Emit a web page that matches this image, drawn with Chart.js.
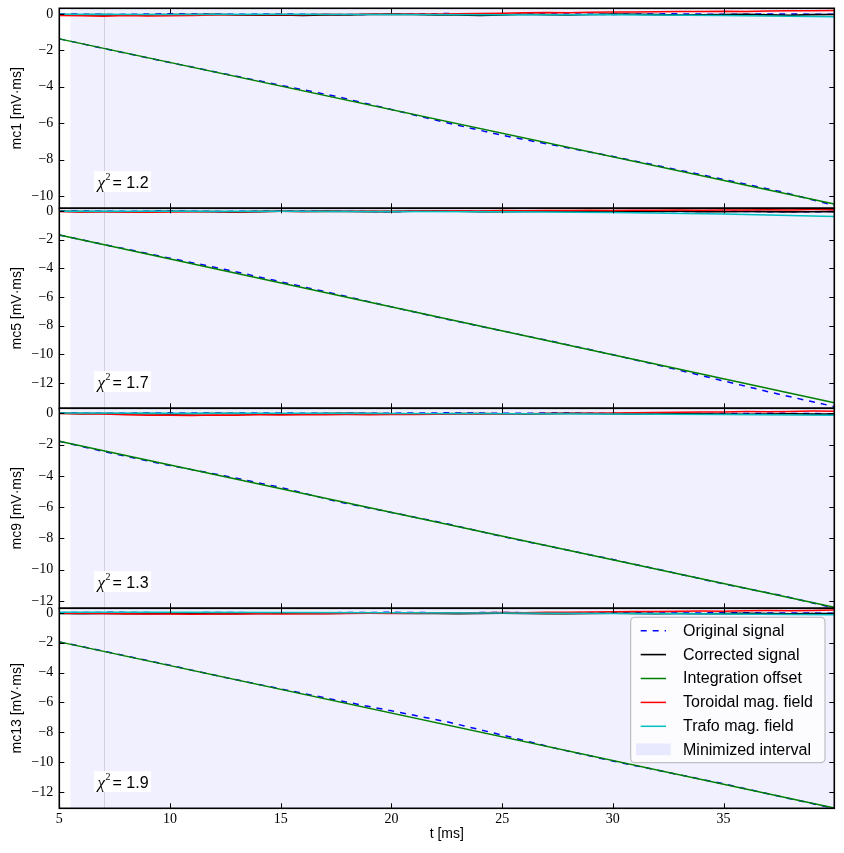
<!DOCTYPE html>
<html><head><meta charset="utf-8">
<script src="https://cdn.jsdelivr.net/npm/chart.js@4/dist/chart.umd.min.js"></script>
<style>
html,body{margin:0;padding:0;background:#fff;}
#wrap{position:relative;width:844px;height:853px;background:#fff;overflow:hidden;}
#wrap canvas{position:absolute;left:0;}
</style></head><body>
<div id="wrap">
<canvas id="c0" width="844" height="216" style="top:0px;width:844px;height:216px"></canvas>
<canvas id="c1" width="844" height="216" style="top:200px;width:844px;height:216px"></canvas>
<canvas id="c2" width="844" height="216" style="top:400px;width:844px;height:216px"></canvas>
<canvas id="c3" width="844" height="253" style="top:600px;width:844px;height:253px"></canvas>
</div>
<script>
// ---------- data ----------
const tFine = [5,6,7,8,9,10,11,12,13,14,15,16,17,18,19,20,21,22,23,24,25,26,27,28,29,30,31,32,33,34,35,36,37,38,39,40];
const tOrig = [5,7.5,10,12.5,15,17.5,20,22.5,25,27.5,30,32.5,35,37.5,40];
const tCoarse = [5,10,15,20,25,30,35,40];
const tOffset = [5,40];

const channels = ['mc1','mc5','mc9','mc13'];
const chiSquared = [1.2,1.7,1.3,1.9];
const xTicks = [5,10,15,20,25,30,35];
const yTicksMc1 = [0,-2,-4,-6,-8,-10];
const yTicksOther = [0,-2,-4,-6,-8,-10,-12];
const yLimMin = [-10.68,-13.77,-12.47,-13.09];
const yLimMax = [0.31,0.19,0.32,0.31];
const xLimMin = 5, xLimMax = 40;
const intervalStart = 5.5, intervalEnd = 40, intervalMarker = 7;
const intervalLabel = 'Minimized interval';

// Original signal (blue dashed)
const origMc1  = [-1.37,-2.02,-2.67,-3.30,-3.92,-4.53,-5.25,-5.98,-6.67,-7.25,-7.83,-8.46,-9.09,-9.74,-10.52];
const origMc5  = [-1.67,-2.49,-3.29,-4.08,-4.94,-5.80,-6.69,-7.55,-8.36,-9.18,-10.03,-10.92,-11.86,-12.79,-13.65];
const origMc9  = [-1.79,-2.60,-3.34,-4.01,-4.74,-5.63,-6.34,-7.06,-7.88,-8.61,-9.35,-10.12,-10.91,-11.62,-12.45];
const origMc13 = [-1.94,-2.72,-3.51,-4.33,-5.09,-5.84,-6.56,-7.29,-8.18,-9.10,-9.92,-10.69,-11.45,-12.28,-13.10];
// Original signal, offset-free part near zero
const zeroMc1  = [0.00,-0.03,0.01,-0.02,0.00,-0.04,-0.01,0.02,-0.02,0.00,-0.03,0.01,-0.02,0.00,-0.02];
const zeroMc5  = [0.01,-0.02,0.00,-0.03,0.01,-0.01,-0.03,0.00,-0.02,0.01,-0.02,-0.04,-0.02,-0.05,-0.04];
const zeroMc9  = [0.02,0.00,0.03,0.01,0.02,-0.01,0.01,0.03,0.00,0.02,-0.01,0.01,-0.02,0.00,-0.03];
const zeroMc13 = [0.02,0.04,0.01,0.03,0.00,0.02,0.04,0.01,0.03,0.00,0.02,-0.01,0.01,0.00,-0.02];
// Integration offset (green)
const offsetMc1  = [-1.37,-10.44];
const offsetMc5  = [-1.67,-13.38];
const offsetMc9  = [-1.79,-12.40];
const offsetMc13 = [-1.94,-13.07];
// Corrected signal (black)
const corrMc1  = [-0.03,-0.05,-0.04,-0.06,-0.05,-0.03,-0.04,-0.02,-0.05,-0.07,-0.06,-0.08,-0.05,-0.06,-0.03,-0.01,-0.03,-0.05,-0.06,-0.08,-0.05,-0.02,-0.04,-0.05,-0.03,-0.01,-0.02,-0.04,-0.06,-0.05,-0.03,-0.02,-0.05,-0.07,-0.04,-0.03];
const corrMc5  = [-0.02,-0.04,-0.03,-0.05,-0.04,-0.02,-0.03,-0.05,-0.06,-0.04,-0.02,-0.03,-0.01,-0.03,-0.05,-0.04,-0.02,0.00,-0.02,-0.04,-0.05,-0.03,-0.01,-0.02,-0.04,-0.06,-0.05,-0.03,-0.02,-0.04,-0.05,-0.03,-0.04,-0.06,-0.05,-0.04];
const corrMc9  = [0.00,-0.02,-0.01,-0.03,-0.02,-0.04,-0.03,-0.01,-0.02,-0.04,-0.05,-0.03,-0.02,0.00,-0.02,-0.03,-0.05,-0.04,-0.02,-0.01,-0.03,-0.04,-0.02,0.00,-0.01,-0.03,-0.05,-0.04,-0.02,-0.03,-0.05,-0.06,-0.04,-0.03,-0.05,-0.04];
const corrMc13 = [-0.03,-0.05,-0.04,-0.06,-0.05,-0.03,-0.04,-0.06,-0.05,-0.03,-0.02,-0.04,-0.03,-0.01,0.01,-0.02,-0.04,-0.03,-0.05,-0.04,-0.02,-0.03,-0.05,-0.06,-0.04,-0.02,-0.03,-0.05,-0.04,-0.06,-0.05,-0.03,-0.04,-0.06,-0.05,-0.04];
// Toroidal mag. field (red)
const torMc1  = [-0.08,-0.10,-0.12,-0.09,-0.11,-0.10,-0.08,-0.06,-0.04,-0.05,-0.03,-0.04,-0.02,-0.03,-0.01,-0.02,0.00,-0.01,0.01,0.02,0.04,0.06,0.08,0.07,0.09,0.11,0.10,0.12,0.14,0.13,0.15,0.14,0.16,0.18,0.17,0.19];
const torMc5  = [-0.04,-0.06,-0.05,-0.07,-0.08,-0.06,-0.05,-0.04,-0.05,-0.03,-0.02,-0.03,-0.01,-0.02,0.00,-0.01,0.01,0.00,0.02,0.01,0.03,0.02,0.04,0.03,0.05,0.04,0.06,0.05,0.07,0.06,0.08,0.07,0.09,0.08,0.10,0.09];
const torMc9  = [-0.02,-0.03,-0.05,-0.10,-0.13,-0.12,-0.14,-0.11,-0.12,-0.10,-0.11,-0.09,-0.10,-0.08,-0.09,-0.07,-0.08,-0.06,-0.05,-0.06,-0.04,-0.03,-0.02,-0.01,0.00,0.02,0.03,0.05,0.06,0.08,0.09,0.11,0.10,0.12,0.14,0.13];
const torMc13 = [-0.02,-0.03,-0.04,-0.06,-0.08,-0.07,-0.09,-0.08,-0.07,-0.06,-0.07,-0.05,-0.06,-0.04,-0.03,-0.04,-0.02,-0.01,0.00,0.01,0.03,0.02,0.04,0.05,0.07,0.08,0.10,0.09,0.11,0.13,0.12,0.14,0.16,0.15,0.17,0.19];
// Trafo mag. field (cyan)
const trafoMc1  = [-0.02,-0.03,-0.02,-0.03,-0.04,-0.05,-0.08,-0.15];
const trafoMc5  = [-0.02,-0.01,-0.02,-0.03,-0.05,-0.10,-0.20,-0.38];
const trafoMc9  = [0.02,0.01,0.00,-0.01,-0.03,-0.05,-0.08,-0.13];
const trafoMc13 = [0.05,0.04,0.03,0.01,-0.01,-0.04,-0.08,-0.13];

const panels = [
  {orig:origMc1, zero:zeroMc1, off:offsetMc1, corr:corrMc1, tor:torMc1, trafo:trafoMc1, yTicks:yTicksMc1},
  {orig:origMc5, zero:zeroMc5, off:offsetMc5, corr:corrMc5, tor:torMc5, trafo:trafoMc5, yTicks:yTicksOther},
  {orig:origMc9, zero:zeroMc9, off:offsetMc9, corr:corrMc9, tor:torMc9, trafo:trafoMc9, yTicks:yTicksOther},
  {orig:origMc13, zero:zeroMc13, off:offsetMc13, corr:corrMc13, tor:torMc13, trafo:trafoMc13, yTicks:yTicksOther}
];

// ---------- helpers ----------
const pts = (xs, ys) => xs.map((x, i) => ({x: x, y: ys[i]}));
const fmt = v => (v < 0 ? '\u2212' : '') + Math.abs(v);
const SERIF = "'Liberation Serif', 'Times New Roman', serif";
const SANS = "'Liberation Sans', Arial, sans-serif";
const noPad = s => { s.paddingTop = 0; s.paddingBottom = 0; s.paddingLeft = 0; s.paddingRight = 0; };

const bgPlugin = {
  id: 'bgShade',
  beforeDatasetsDraw(chart) {
    const {ctx, chartArea: a, scales: {x}} = chart;
    ctx.save();
    ctx.fillStyle = '#ffffff';
    ctx.fillRect(a.left, a.top, a.width, a.height);
    const x0 = x.getPixelForValue(intervalStart), x1 = x.getPixelForValue(intervalEnd);
    ctx.fillStyle = 'rgba(0,0,255,0.06)';
    ctx.fillRect(x0, a.top, x1 - x0, a.height);
    const xm = Math.round(x.getPixelForValue(intervalMarker)) + 0.5;
    ctx.strokeStyle = '#cfd1e0';
    ctx.lineWidth = 1;
    ctx.beginPath(); ctx.moveTo(xm, a.top); ctx.lineTo(xm, a.bottom); ctx.stroke();
    ctx.restore();
  }
};

function framePlugin(yTicks) {
  return {
    id: 'frame',
    afterDatasetsDraw(chart) {
      const {ctx, chartArea: a, scales: {x, y}} = chart;
      ctx.save();
      ctx.strokeStyle = '#000';
      ctx.lineWidth = 1;
      ctx.beginPath();
      xTicks.forEach(v => {
        const px = Math.round(x.getPixelForValue(v)) + 0.5;
        ctx.moveTo(px, a.top); ctx.lineTo(px, a.top + 5);
        ctx.moveTo(px, a.bottom); ctx.lineTo(px, a.bottom - 5);
      });
      yTicks.forEach(v => {
        const py = Math.round(y.getPixelForValue(v)) + 0.5;
        ctx.moveTo(a.left, py); ctx.lineTo(a.left + 5, py);
        ctx.moveTo(a.right, py); ctx.lineTo(a.right - 5, py);
      });
      ctx.stroke();
      ctx.lineWidth = 1.6;
      ctx.strokeRect(a.left, a.top, a.width, a.height);
      ctx.restore();
    }
  };
}

function chiPlugin(chi) {
  return {
    id: 'chi',
    afterDraw(chart) {
      const {ctx, chartArea: a} = chart;
      const bx = a.left + 34.7, by = a.bottom - 37.3;
      ctx.save();
      ctx.fillStyle = '#fff';
      ctx.fillRect(bx, by, 57, 21);
      ctx.fillStyle = '#000';
      ctx.textBaseline = 'alphabetic';
      ctx.textAlign = 'left';
      const base = a.bottom - 20.5;
      ctx.font = 'italic 17px ' + SERIF;
      ctx.fillText('\u03C7', bx + 3.5, base);
      ctx.font = '10px ' + SERIF;
      ctx.fillText('2', bx + 11.5, base - 7.5);
      ctx.font = '16px ' + SANS;
      ctx.fillText('= ' + chi, bx + 18.5, base);
      ctx.restore();
    }
  };
}

const legendPlugin = {
  id: 'customLegend',
  afterDraw(chart) {
    const {ctx, chartArea: a} = chart;
    const bw = 194.3, bh = 145.4;
    const bx = a.right - 9.3 - bw, by = a.top + 9;
    const r = 4;
    ctx.save();
    ctx.beginPath();
    ctx.moveTo(bx + r, by);
    ctx.lineTo(bx + bw - r, by); ctx.arcTo(bx + bw, by, bx + bw, by + r, r);
    ctx.lineTo(bx + bw, by + bh - r); ctx.arcTo(bx + bw, by + bh, bx + bw - r, by + bh, r);
    ctx.lineTo(bx + r, by + bh); ctx.arcTo(bx, by + bh, bx, by + bh - r, r);
    ctx.lineTo(bx, by + r); ctx.arcTo(bx, by, bx + r, by, r);
    ctx.closePath();
    ctx.fillStyle = 'rgba(255,255,255,0.8)';
    ctx.fill();
    ctx.strokeStyle = '#b3b3b3';
    ctx.lineWidth = 1;
    ctx.stroke();

    const items = chart.data.datasets.filter(d => !d.legendHide);
    ctx.font = '16px ' + SANS;
    ctx.textBaseline = 'middle';
    ctx.textAlign = 'left';
    items.forEach((d, i) => {
      const ry = by + 13.4 + i * 23.9;
      ctx.strokeStyle = d.borderColor;
      ctx.lineWidth = d.borderWidth;
      ctx.setLineDash(d.borderDash || []);
      ctx.beginPath(); ctx.moveTo(bx + 10, ry); ctx.lineTo(bx + 35.3, ry); ctx.stroke();
      ctx.setLineDash([]);
      ctx.fillStyle = '#000';
      ctx.fillText(d.label, bx + 52.3, ry + 0.5);
    });
    const ry = by + 13.4 + items.length * 23.9;
    ctx.fillStyle = 'rgba(0,0,255,0.08)';
    ctx.fillRect(bx + 5.3, ry - 6.7, 34.7, 11.7);
    ctx.fillStyle = '#000';
    ctx.fillText(intervalLabel, bx + 52.3, ry + 0.5);
    ctx.restore();
  }
};

// ---------- charts ----------
panels.forEach((p, k) => {
  const last = k === panels.length - 1;
  new Chart(document.getElementById('c' + k), {
    type: 'line',
    data: {
      datasets: [
        {label: 'Original signal', data: pts(tOrig, p.orig), borderColor: '#0000ff', borderDash: [6, 6], borderWidth: 1.5, order: 6},
        {label: 'Original signal (near zero)', legendHide: true, data: pts(tOrig, p.zero), borderColor: '#0000ff', borderDash: [6, 6], borderWidth: 1.5, order: 6},
        {label: 'Corrected signal', data: pts(tFine, p.corr), borderColor: '#000000', borderWidth: 1.6, order: 4},
        {label: 'Integration offset', data: pts(tOffset, p.off), borderColor: '#008000', borderWidth: 1.5, order: 3},
        {label: 'Toroidal mag. field', data: pts(tFine, p.tor), borderColor: '#ff0000', borderWidth: 1.5, order: 2},
        {label: 'Trafo mag. field', data: pts(tCoarse, p.trafo), borderColor: '#00bfbf', borderWidth: 1.5, order: 1}
      ]
    },
    options: {
      responsive: false,
      animation: false,
      devicePixelRatio: 1,
      events: [],
      elements: {point: {radius: 0}, line: {tension: 0, fill: false}},
      layout: {padding: {top: 8.3, bottom: last ? 0 : 7.7, left: 0, right: 9.7}},
      plugins: {legend: {display: false}, tooltip: {enabled: false}},
      scales: {
        x: {
          type: 'linear', min: xLimMin, max: xLimMax, display: last,
          afterBuildTicks: s => { s.ticks = xTicks.map(v => ({value: v})); },
          afterFit: s => { noPad(s); if (last) s.height = 44.7; },
          grid: {display: false, drawTicks: false, tickLength: 0},
          border: {display: false},
          ticks: {font: {family: SERIF, size: 14}, color: '#000', padding: 3, maxRotation: 0, autoSkip: false, callback: v => fmt(v)},
          title: {display: true, text: 't [ms]', font: {family: SANS, size: 14}, color: '#000', padding: {top: 0, bottom: 10.6}}
        },
        y: {
          type: 'linear', min: yLimMin[k], max: yLimMax[k],
          afterBuildTicks: s => { s.ticks = p.yTicks.map(v => ({value: v})); },
          afterFit: s => { noPad(s); s.width = 59.3; },
          grid: {display: false, drawTicks: false, tickLength: 0},
          border: {display: false},
          ticks: {font: {family: SERIF, size: 14}, color: '#000', padding: 6, autoSkip: false, callback: v => fmt(v)},
          title: {display: true, text: channels[k] + ' [mV\u00B7ms]', font: {family: SANS, size: 14}, color: '#000', padding: {top: 8.6, bottom: 0}}
        }
      }
    },
    plugins: [bgPlugin, framePlugin(p.yTicks), chiPlugin(chiSquared[k])].concat(last ? [legendPlugin] : [])
  });
});
</script>
</body></html>
